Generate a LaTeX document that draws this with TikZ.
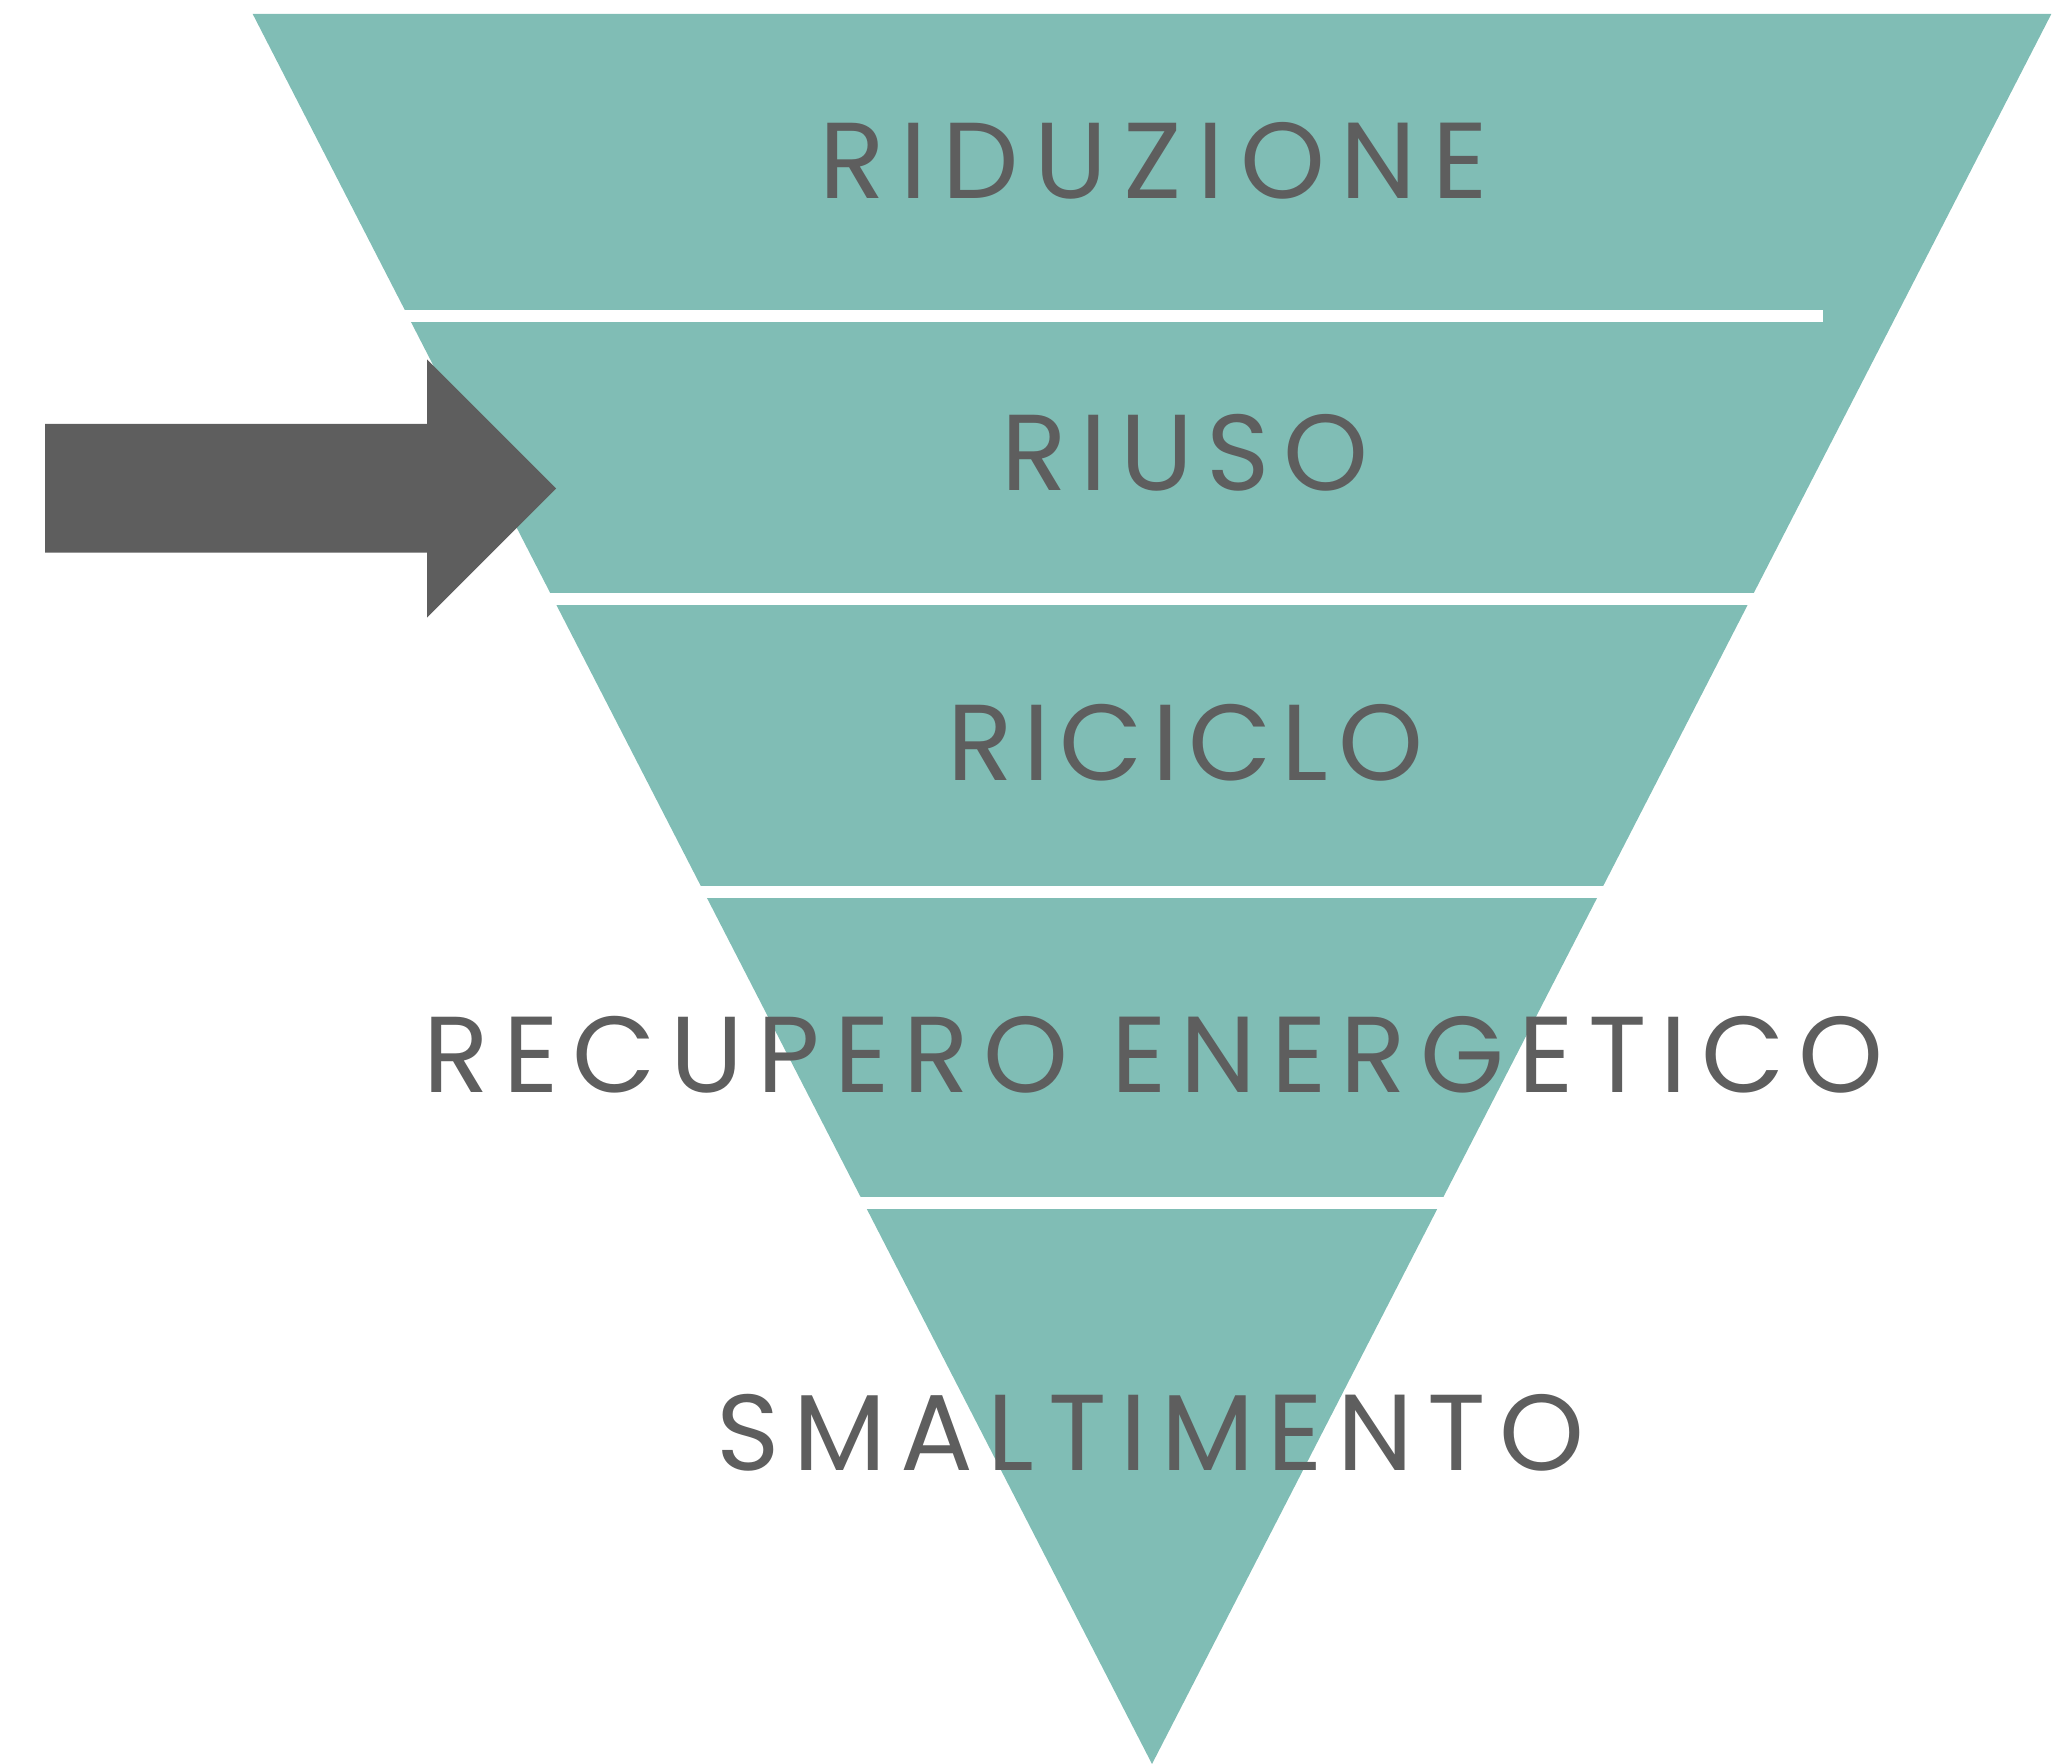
\documentclass[tikz,border=0pt]{standalone}
\usepackage{fontspec}
\newfontfamily\lblfont{Poppins}
\definecolor{bandteal}{HTML}{80BDB5}
\definecolor{inkgray}{HTML}{5E5E5E}
\begin{document}
\begin{tikzpicture}[x=0.5pt,y=-0.5pt,
  lbl/.style={anchor=base,inner sep=0pt,text=inkgray,
    font=\lblfont\addfontfeatures{LetterSpace=#1}\fontsize{54}{60}\selectfont},
  gap/.style={fill=white}]
\useasboundingbox (0,0) rectangle (2064,1764);
% funnel
\fill[bandteal] (252.7,14) -- (2051.3,14) -- (1152,1764) -- cycle;
% white separators
\fill[gap] (300,310) rectangle (1823,322);
\fill[gap] (300,592.7) rectangle (2000,605);
\fill[gap] (300,886) rectangle (2000,898);
\fill[gap] (300,1197.3) rectangle (2000,1209.3);
% arrow
\fill[inkgray] (45.2,424) -- (427,424) -- (427,359.3) -- (556,488.5) -- (427,617.7) -- (427,552.7) -- (45.2,552.7) -- cycle;
% labels
\node[lbl=14.6] (riduzione) at (1153.5,198.5) {RIDUZIONE};
\node[lbl=12.4] (riuso) at (1184.5,491) {RIUSO};
\node[lbl=9] (riciclo) at (1185.5,780.5) {RICICLO};
\node[lbl=13.1] (recupero) at (1153.7,1092.5) {RECUPERO ENERGETICO};
\node[lbl=12.9] (smaltimento) at (1150.5,1470) {SMALTIMENTO};
\end{tikzpicture}
\end{document}
